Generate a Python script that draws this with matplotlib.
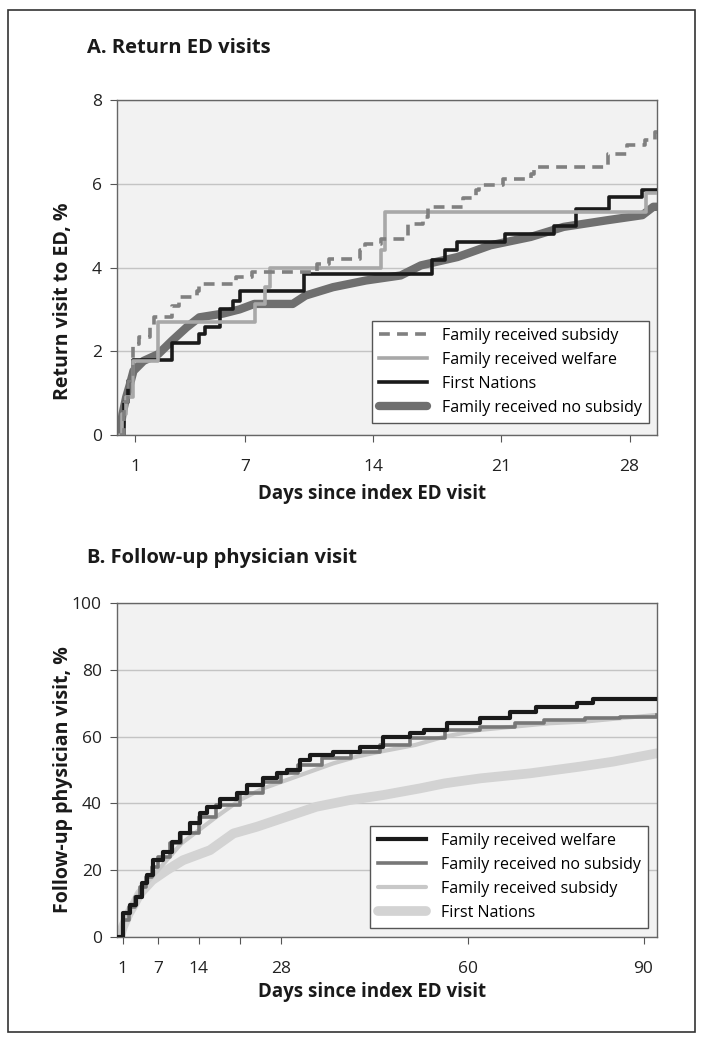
import matplotlib
matplotlib.use("Agg")
import matplotlib.pyplot as plt
from matplotlib.patches import Rectangle

plt.rcParams['font.family'] = ['Open Sans', 'DejaVu Sans']

# ---- Panel A: return ED visits (%), days 0-29.5
a_subsidy_days = [0.15, 0.4, 0.6, 0.9, 1.2, 1.8, 2.0, 3.0, 3.4, 4.35, 4.5, 6.5, 7.4, 10.9, 11.6,
                  13.3, 13.55, 14.4, 15.9, 16.7, 17.0, 18.9, 19.6, 19.8, 21.1, 22.6, 22.8, 26.8,
                  27.85, 28.85, 29.4, 29.5]
a_subsidy_vals = [0, 0.8, 1.3, 2.17, 2.33, 2.57, 2.81, 3.09, 3.29, 3.45, 3.61, 3.77, 3.9, 4.09, 4.21,
                  4.41, 4.57, 4.69, 5.05, 5.2, 5.45, 5.65, 5.84, 5.96, 6.12, 6.24, 6.4, 6.72,
                  6.92, 7.04, 7.24, 7.24]

a_welfare_days = [0.15, 0.3, 0.5, 0.9, 2.25, 7.55, 8.1, 8.35, 14.4, 14.65, 28.9, 29.5]
a_welfare_vals = [0, 0.5, 0.9, 1.77, 2.69, 3.13, 3.53, 3.99, 4.41, 5.33, 5.77, 5.77]

a_fn_days = [0.15, 0.4, 0.6, 0.9, 3.0, 4.5, 4.8, 5.6, 6.35, 6.7, 10.2, 17.2, 17.9, 18.6,
             21.2, 23.9, 25.1, 26.9, 28.7, 29.5]
a_fn_vals = [0, 0.8, 1.3, 1.8, 2.2, 2.42, 2.57, 3.0, 3.21, 3.45, 3.85, 4.17, 4.41, 4.6,
             4.81, 5.0, 5.4, 5.68, 5.84, 5.84]

a_nosub_days = [0.15, 0.3, 0.5, 0.7, 0.9, 1.45, 2.25, 3.0, 3.8, 4.5, 5.8, 6.7, 7.5, 9.6, 10.3,
                11.8, 13.6, 15.5, 16.6, 18.6, 20.4, 22.6, 24.4, 26.8, 28.7, 29.3, 29.5]
a_nosub_vals = [0, 0.5, 0.9, 1.2, 1.53, 1.77, 1.93, 2.25, 2.57, 2.81, 2.9, 3.0, 3.13, 3.13, 3.33,
                3.53, 3.69, 3.81, 4.05, 4.25, 4.53, 4.73, 4.97, 5.13, 5.25, 5.45, 5.45]

# ---- Panel B: follow-up physician visit (%), days 0-92
b_welfare_days = [0.3, 1.0, 2.2, 3.3, 4.2, 5.1, 6.2, 7.9, 9.35, 10.8, 12.5, 14.2, 15.3, 17.6, 20.5,
                  22.2, 25.0, 27.3, 29.0, 31.3, 33.0, 37.0, 41.5, 45.5, 50, 52.4, 56.4, 62.1,
                  67.2, 71.7, 78.6, 81.4, 92.3]
b_welfare_vals = [0, 7.1, 9.6, 12.1, 16.1, 18.6, 23.1, 25.5, 28.5, 31.0, 34.0, 37.0, 39.0, 41.2, 43.0,
                  45.5, 47.5, 49.0, 50, 53, 54.5, 55.5, 57.0, 60.0, 61, 62, 64, 65.5,
                  67.5, 69, 70, 71.2, 71.2]

b_nosub_days = [0.3, 1, 2, 3, 4, 5, 6, 7, 9, 11, 14, 17, 21, 25, 28, 31, 35, 40, 45, 50, 56, 62,
                68, 73, 80, 86, 92.3]
b_nosub_vals = [0, 5, 9, 12, 15, 18, 21, 24, 28, 31, 36, 39.5, 43, 46.5, 49, 51.5, 53.5, 55.5,
                57.5, 59.5, 62, 63, 64, 65, 65.5, 66, 66.5]

b_subsidy_days = [0.5, 1, 2, 3, 4, 5, 7, 9, 11, 14, 17, 21, 25, 29, 33, 37, 41, 45, 51, 56, 62,
                  68, 74, 80, 86, 92.3]
b_subsidy_vals = [0, 4, 8, 11, 14, 16, 20, 24, 28, 32, 36, 41, 44.5, 47, 49.5, 52, 54, 55.5,
                  57.5, 60, 62, 63, 64, 64.5, 65.5, 66.5]

b_fn_days = [0.5, 1, 2, 3, 3.9, 6, 8.5, 11.3, 15.9, 19.9, 23.9, 29, 34.1, 39.8, 45.5, 51.8, 56,
             62.1, 70.6, 79.1, 84.8, 92.3]
b_fn_vals = [0, 3, 7, 10, 13, 17, 20, 23, 26, 31, 33, 36, 39, 41, 42.5, 44.5, 46, 47.5, 49, 51,
             52.5, 55]

a_xticks = [1, 7, 14, 21, 28]
a_yticks = [0, 2, 4, 6, 8]
b_xticks = [1, 7, 14, 21, 28, 60, 90]
b_xticklabels = ['1', '7', '14', '', '28', '60', '90']
b_yticks = [0, 20, 40, 60, 80, 100]

W, H = 705, 1043
fig = plt.figure(figsize=(W / 100, H / 100), dpi=100)


def style_axes(ax):
    ax.set_facecolor('#f2f2f2')
    for s in ax.spines.values():
        s.set_color('#666666')
        s.set_linewidth(1.0)
    ax.tick_params(axis='both', direction='out', length=5, width=0.8, color='#555555',
                   labelsize=12.5, labelcolor='#222222')
    ax.tick_params(axis='x', pad=12)
    ax.tick_params(axis='y', pad=6)
    ax.grid(axis='y', color='#c4c4c4', linewidth=1.0)
    ax.set_axisbelow(True)


def place_labels(ax, xlab, ylab, ly, xy):
    ax.set_xlabel(xlab, fontsize=13.5, fontweight='bold', color='#1a1a1a')
    ax.set_ylabel(ylab, fontsize=14, fontweight='bold', color='#1a1a1a')
    ax.xaxis.label.set_va('center')
    ax.yaxis.label.set_va('center')
    ax.xaxis.set_label_coords(0.472, xy)
    ax.yaxis.set_label_coords(-0.100, ly)


def add_legend(ax, anchor):
    h, l = ax.get_legend_handles_labels()
    order = [3, 2, 1, 0]
    leg = ax.legend([h[i] for i in order], [l[i] for i in order], loc='lower right',
                    bbox_to_anchor=anchor, fontsize=11.5, frameon=True, fancybox=False,
                    edgecolor='#555555', framealpha=1, handlelength=3.0, handletextpad=0.95,
                    labelspacing=0.5, borderpad=0.45, borderaxespad=0)
    leg.get_frame().set_linewidth(1.0)


# Panel A
axA = fig.add_axes([117 / W, 1 - 435 / H, 540 / W, 335 / H])
style_axes(axA)
axA.plot(a_nosub_days, a_nosub_vals, color='#6f6f6f', lw=6, solid_capstyle='round',
         label='Family received no subsidy', zorder=2)
axA.plot(a_fn_days, a_fn_vals, color='#1a1a1a', lw=2.6, drawstyle='steps-post',
         label='First Nations', zorder=3)
axA.plot(a_welfare_days, a_welfare_vals, color='#a8a8a8', lw=2.6, drawstyle='steps-post',
         label='Family received welfare', zorder=4)
axA.plot(a_subsidy_days, a_subsidy_vals, color='#808080', lw=2.6, drawstyle='steps-post',
         dashes=(3, 2), label='Family received subsidy', zorder=5)
axA.set_xlim(0, 29.5)
axA.set_ylim(0, 8)
axA.set_xticks(a_xticks)
axA.set_yticks(a_yticks)
place_labels(axA, 'Days since index ED visit', 'Return visit to ED, %', 0.40, -0.175)
add_legend(axA, (0.985, 0.036))

# Panel B
axB = fig.add_axes([117 / W, 1 - 937 / H, 540 / W, 334 / H])
style_axes(axB)
axB.plot(b_fn_days, b_fn_vals, color='#d3d3d3', lw=7, solid_capstyle='round',
         label='First Nations', zorder=2)
axB.plot(b_subsidy_days, b_subsidy_vals, color='#c8c8c8', lw=3, solid_capstyle='round',
         label='Family received subsidy', zorder=3)
axB.plot(b_nosub_days, b_nosub_vals, color='#777777', lw=2.6, drawstyle='steps-post',
         label='Family received no subsidy', zorder=4)
axB.plot(b_welfare_days, b_welfare_vals, color='#1a1a1a', lw=3, drawstyle='steps-post',
         label='Family received welfare', zorder=5)
axB.set_xlim(0, 92.3)
axB.set_ylim(0, 100)
axB.set_xticks(b_xticks)
axB.set_xticklabels(b_xticklabels)
axB.set_yticks(b_yticks)
place_labels(axB, 'Days since index ED visit', 'Follow-up physician visit, %', 0.47, -0.165)
add_legend(axB, (0.983, 0.027))

# titles
fig.text(87 / W, 1 - 48 / H, 'A. Return ED visits', fontsize=14.5, fontweight='bold',
         va='center', color='#1a1a1a')
fig.text(87 / W, 1 - 558 / H, 'B. Follow-up physician visit', fontsize=14.5, fontweight='bold',
         va='center', color='#1a1a1a')

# outer frame
fig.add_artist(Rectangle((8 / W, 1 - 1032 / H), 687 / W, 1022 / H, transform=fig.transFigure,
                         fill=False, edgecolor='#333333', linewidth=1.2))

fig.savefig('out.png', dpi=100, facecolor='white')
